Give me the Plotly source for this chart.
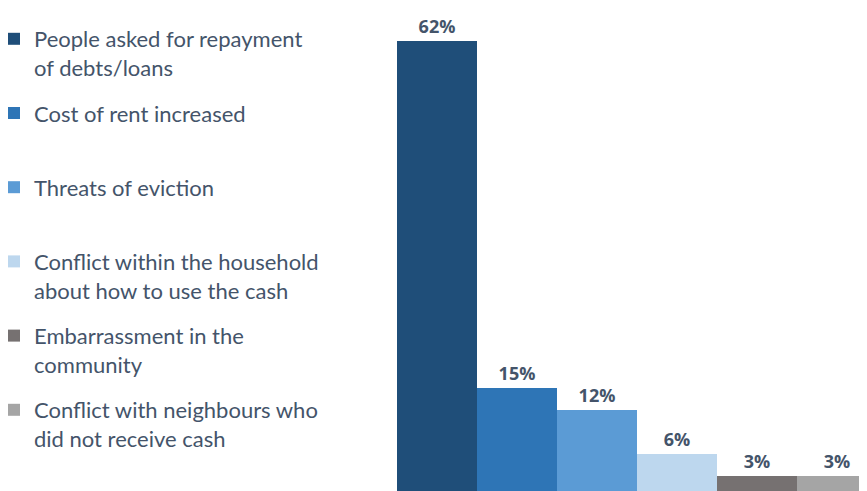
import plotly.graph_objects as go

# Reasons reported (legend labels) and share of respondents
reasons = [
    'People asked for repayment<br>of debts/loans',
    'Cost of rent increased<br> ',
    'Threats of eviction<br> ',
    'Conflict within the household<br>about how to use the cash',
    'Embarrassment in the<br>community',
    'Conflict with neighbours who<br>did not receive cash',
]
values = [62, 15, 12, 6, 3, 3]
colors = ['#1F4E79', '#2E75B6', '#5B9BD5', '#BDD7EE', '#767171', '#A5A5A5']

text_color = '#44546A'
W, H = 867, 491
left = 389

fig = go.Figure()

for i, (name, val, col) in enumerate(zip(reasons, values, colors)):
    fig.add_trace(go.Bar(
        x=[i], y=[val], name=name, legendgroup=f'g{i}',
        marker=dict(color=col, line=dict(width=0)),
        text=[f'{val}%'], textposition='outside', cliponaxis=False,
        textfont=dict(family='Open Sans', size=18, color=text_color, weight='bold'),
        hoverinfo='skip',
    ))

fig.update_layout(
    width=W, height=H,
    margin=dict(l=left, r=0, t=0, b=0, autoexpand=False),
    plot_bgcolor='white', paper_bgcolor='white',
    barmode='relative', bargap=0,
    showlegend=True,
    legend=dict(
        x=-(left + 14) / (W - left), xanchor='left', y=1.0 - 10 / H, yanchor='top',
        font=dict(family='Lato', size=22, color=text_color),
        tracegroupgap=14, valign='top', traceorder='grouped', itemwidth=30,
        bgcolor='rgba(0,0,0,0)',
    ),
)
fig.update_xaxes(range=[-0.5, -0.5 + (W - left) / 80], showticklabels=False, showgrid=False,
                 zeroline=False, showline=False, ticks='')
fig.update_yaxes(range=[-0.13, 66.5], showticklabels=False, showgrid=False,
                 zeroline=False, showline=False, ticks='')

fig.write_html('out.html')
